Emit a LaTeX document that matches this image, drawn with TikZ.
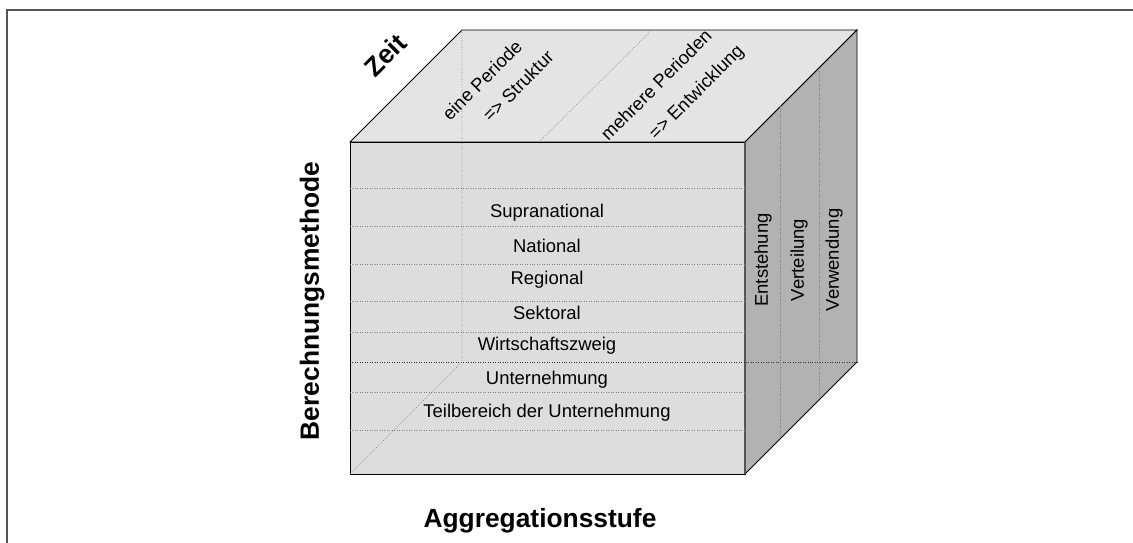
\documentclass[tikz,border=0pt]{standalone}
\usepackage{fontspec}
\setmainfont{Liberation Sans}
\usetikzlibrary{positioning,calc}

\definecolor{frontgray}{HTML}{DDDDDD}
\definecolor{topgray}{HTML}{E4E4E4}
\definecolor{sidegray}{HTML}{B2B2B2}
\definecolor{framegray}{HTML}{555555}

\begin{document}
\begin{tikzpicture}[x=0.02cm,y=0.02cm,node distance=0.666cm,
    level/.style={font=\fontsize{10.5}{12}\selectfont,inner sep=0pt},
    axis/.style={font=\bfseries\fontsize{15}{18}\selectfont,inner sep=0pt},
    face/.style={draw=black,line width=0.5pt},
    grid/.style={densely dotted,gray,line width=0.4pt}]

    \useasboundingbox (0,0) rectangle (1133,543);
    \draw[framegray,line width=1.1pt] (7,0) -- (7,533) -- (1133,533);

    % corners of the cube
    \coordinate (A) at (350,69);
    \coordinate (B) at (745,69);
    \coordinate (C) at (745,401);
    \coordinate (D) at (350,401);
    \coordinate (E) at (462,513);
    \coordinate (F) at (857,513);
    \coordinate (G) at (857,181);
    \coordinate (H) at (462,181);

    \filldraw[face,fill=frontgray] (A) -- (B) -- (C) -- (D) -- cycle;
    \filldraw[face,fill=topgray] (D) -- (E) -- (F) -- (C) -- cycle;
    \filldraw[face,fill=sidegray] (B) -- (G) -- (F) -- (C) -- cycle;
    \draw[framegray,line width=1pt] (B) -- (C);

    \foreach \y in {355,317,279,242,211,151,113}
        \draw[grid] (350,\y) -- (745,\y);
    \draw[grid,black!80] (350,181) -- (G);
    \draw[grid] (E) -- (H) -- (A);
    \draw[grid] (652,513) -- (539,401);
    \draw[grid] ($(C)!0.32!(F)$) -- ($(B)!0.32!(G)$);
    \draw[grid] ($(C)!0.66!(F)$) -- ($(B)!0.66!(G)$);

    \node[level] (sup) at (547,330) {Supranational};
    \node[level] (nat) [below of = sup] {National};
    \node[level] (reg) [below of = nat] {Regional};
    \node[level] (sek) [below of = reg] {Sektoral};
    \node[level] (wiz) [below of = sek] {Wirtschaftszweig};
    \node[level] (unt) [below of = wiz] {Unternehmung};
    \node[level] (teil) [below of = unt] {Teilbereich der Unternehmung};

    \node[level,rotate=90] (ent) at (763,283) {Entstehung};
    \node[level,rotate=90] (ver) at (799,283) {Verteilung};
    \node[level,rotate=90] (vew) at (834,283) {Verwendung};

    \node[level,rotate=45] (per1) at (482,463) {eine Periode};
    \node[level,rotate=45] (str) at (518,457) {=> Struktur};
    \node[level,rotate=45] (per2) at (656,458) {mehrere Perioden};
    \node[level,rotate=45] (entw) at (697,450) {=> Entwicklung};

    \node[axis,rotate=45] (zeit) at (385,488) {Zeit};
    \node[axis,rotate=90] (ber) at (312,242) {Berechnungsmethode};
    \node[axis] (agg) at (540,22) {Aggregationsstufe};
\end{tikzpicture}
\end{document}
